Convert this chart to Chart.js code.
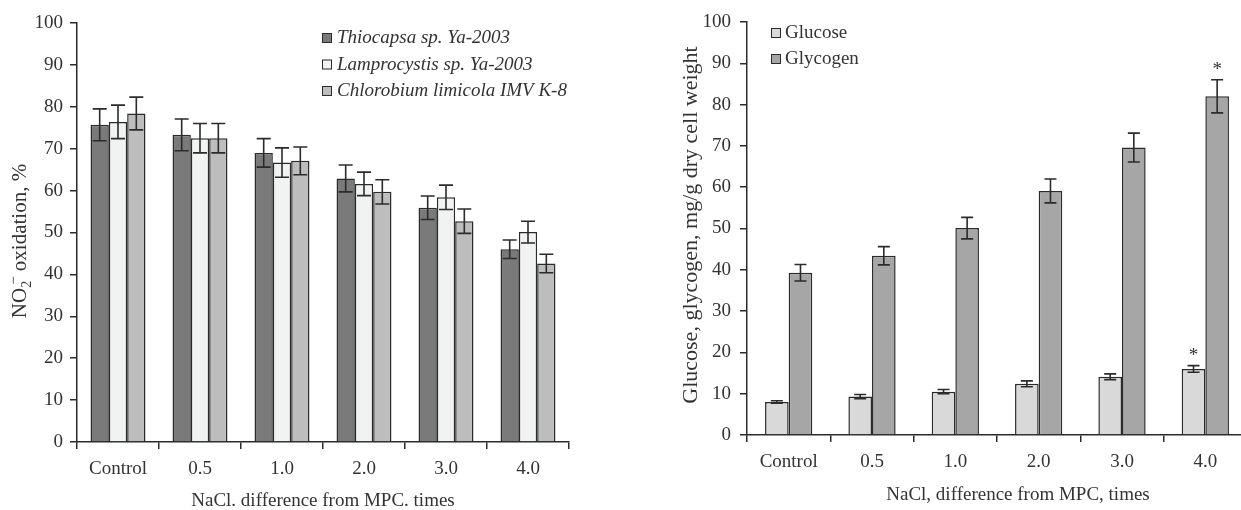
<!DOCTYPE html>
<html>
<head>
<meta charset="utf-8">
<script src="https://cdn.jsdelivr.net/npm/chart.js@4/dist/chart.umd.min.js"></script>
<style>
    html, body { margin: 0; padding: 0; background: #fff; overflow: hidden; width: 1241px; height: 510px; }
    #nitriteChart { position: absolute; left: 0; top: 0; }
    #sugarChart { position: absolute; left: 620px; top: 0; }
</style>
</head>
<body>
<canvas id="nitriteChart" width="620" height="510"></canvas>
<canvas id="sugarChart" width="640" height="510"></canvas>
<script>
const FONT = "'Liberation Serif', 'Times New Roman', serif";
const TEXT = "#333333";
const LINE = "#2b2b2b";

// shared categories
const categories = ["Control", "0.5", "1.0", "2.0", "3.0", "4.0"];

// left chart: NO2- oxidation, %
const thiocapsa = [75.7, 73.3, 69.0, 62.9, 55.9, 46.0];
const thiocapsaErr = [3.8, 3.8, 3.4, 3.2, 2.8, 2.2];
const lamprocystis = [76.4, 72.5, 66.7, 61.6, 58.4, 50.1];
const lamprocystisErr = [4.0, 3.5, 3.5, 2.8, 2.9, 2.6];
const chlorobium = [78.4, 72.5, 67.1, 59.7, 52.7, 42.6];
const chlorobiumErr = [3.9, 3.5, 3.3, 2.9, 2.9, 2.2];

// right chart: glucose / glycogen, mg/g dry cell weight
const glucose = [8.0, 9.3, 10.5, 12.4, 14.1, 16.0];
const glucoseErr = [0.3, 0.5, 0.5, 0.7, 0.7, 0.8];
const glycogen = [39.3, 43.4, 50.1, 59.1, 69.6, 82.0];
const glycogenErr = [2.0, 2.2, 2.6, 2.9, 3.5, 4.0];
const glucoseSignificant = [false, false, false, false, false, true];
const glycogenSignificant = [false, false, false, false, false, true];

const yMin = 0;
const yMax = 100;
const yStep = 10;

// drawing extras per canvas (kept out of Chart.js options so they stay plain objects)
const extras = {
    nitriteChart: {
        cap: 7,
        legend: { x: 322, textX: 337, y: 38, rowHeight: 26.5, italic: true },
        xTitle: { text: "NaCl. difference from MPC. times", x: 323, y: 506 },
        yTitle: {
            x: 26, y: 241, size: 21,
            parts: [
                { text: "NO", size: 21, dy: 0, shift: 0 },
                { text: "2", size: 14, dy: 5, shift: 0 },
                { text: "\u2212", size: 15, dy: -8, shift: -4 },
                { text: " oxidation, %", size: 21, dy: 0, shift: 0 },
            ],
        },
    },
    sugarChart: {
        cap: 6,
        legend: { x: 151, textX: 165, y: 33, rowHeight: 26, italic: false },
        xTitle: { text: "NaCl, difference from MPC, times", x: 398, y: 500 },
        yTitle: {
            x: 77, y: 225, size: 22,
            parts: [{ text: "Glucose, glycogen, mg/g dry cell weight", size: 22, dy: 0, shift: 0 }],
        },
    },
};

const errorBarsPlugin = {
    id: "errorBars",
    afterDatasetsDraw(chart) {
        const ctx = chart.ctx;
        const yScale = chart.scales.y;
        const half = extras[chart.canvas.id].cap;
        ctx.save();
        chart.data.datasets.forEach((ds, i) => {
            const meta = chart.getDatasetMeta(i);
            if (meta.hidden || !ds.errors) return;
            meta.data.forEach((bar, j) => {
                const v = ds.data[j];
                const e = ds.errors[j];
                const top = yScale.getPixelForValue(v + e);
                const bottom = yScale.getPixelForValue(v - e);
                ctx.strokeStyle = LINE;
                ctx.lineWidth = 1.6;
                ctx.beginPath();
                ctx.moveTo(bar.x, top);
                ctx.lineTo(bar.x, bottom);
                ctx.moveTo(bar.x - half, top);
                ctx.lineTo(bar.x + half, top);
                ctx.moveTo(bar.x - half, bottom);
                ctx.lineTo(bar.x + half, bottom);
                ctx.stroke();
                if (ds.marks && ds.marks[j]) {
                    ctx.fillStyle = TEXT;
                    ctx.font = "19px " + FONT;
                    ctx.textAlign = "center";
                    ctx.textBaseline = "alphabetic";
                    ctx.fillText("*", bar.x, top - 5);
                }
            });
        });
        ctx.restore();
    },
};

const annotationsPlugin = {
    id: "annotations",
    afterDraw(chart) {
        const opts = extras[chart.canvas.id];
        const ctx = chart.ctx;
        ctx.save();

        // legend drawn inside the plot
        const lg = opts.legend;
        ctx.font = (lg.italic ? "italic " : "") + "19px " + FONT;
        ctx.textAlign = "left";
        ctx.textBaseline = "middle";
        chart.data.datasets.forEach((ds, i) => {
            const y = lg.y + i * lg.rowHeight;
            ctx.fillStyle = ds.backgroundColor;
            ctx.fillRect(lg.x, y - 5, 10, 10);
            ctx.strokeStyle = LINE;
            ctx.lineWidth = 1;
            ctx.strokeRect(lg.x + 0.5, y - 4.5, 9, 9);
            ctx.fillStyle = TEXT;
            ctx.fillText(ds.label, lg.textX, y);
        });

        // x axis title
        ctx.fillStyle = TEXT;
        ctx.font = "19px " + FONT;
        ctx.textAlign = "center";
        ctx.textBaseline = "alphabetic";
        ctx.fillText(opts.xTitle.text, opts.xTitle.x, opts.xTitle.y);

        // y axis title, rotated, with optional sub/superscripts
        const yt = opts.yTitle;
        ctx.translate(yt.x, yt.y);
        ctx.rotate(-Math.PI / 2);
        ctx.textAlign = "left";
        let total = 0;
        yt.parts.forEach((p) => {
            ctx.font = p.size + "px " + FONT;
            total += ctx.measureText(p.text).width + p.shift;
        });
        let pos = -total / 2;
        yt.parts.forEach((p) => {
            ctx.font = p.size + "px " + FONT;
            pos += p.shift;
            ctx.fillText(p.text, pos, p.dy);
            pos += ctx.measureText(p.text).width;
        });
        ctx.restore();
    },
};

function axisOptions(yWidth, xHeight, yPad) {
    return {
        x: {
            offset: true,
            grid: { display: true, drawOnChartArea: false, drawTicks: true, tickLength: 7, color: LINE, lineWidth: 1.5, offset: true },
            border: { display: true, color: LINE, width: 1.5 },
            ticks: { color: TEXT, font: { family: FONT, size: 19 }, padding: 9, maxRotation: 0 },
            afterFit(scale) { scale.height = xHeight; },
        },
        y: {
            min: yMin,
            max: yMax,
            grid: { display: true, drawOnChartArea: false, drawTicks: true, tickLength: 7, color: LINE, lineWidth: 1.5 },
            border: { display: true, color: LINE, width: 1.5 },
            ticks: { stepSize: yStep, color: TEXT, font: { family: FONT, size: 19 }, padding: yPad },
            afterFit(scale) { scale.width = yWidth; },
        },
    };
}

function barSet(label, values, errors, color, marks) {
    return {
        label,
        data: values,
        errors,
        marks,
        backgroundColor: color,
        borderColor: LINE,
        borderWidth: 1.5,
        borderSkipped: "bottom",
    };
}

document.addEventListener("DOMContentLoaded", () => {
    new Chart(document.getElementById("nitriteChart"), {
        type: "bar",
        data: {
            labels: categories,
            datasets: [
                barSet("Thiocapsa sp. Ya-2003", thiocapsa, thiocapsaErr, "#7a7a7a"),
                barSet("Lamprocystis sp. Ya-2003", lamprocystis, lamprocystisErr, "#f1f3f2"),
                barSet("Chlorobium limicola IMV K-8", chlorobium, chlorobiumErr, "#bdbdbd"),
            ],
        },
        options: {
            responsive: false,
            animation: false,
            datasets: { bar: { barPercentage: 1, categoryPercentage: 0.67 } },
            layout: { padding: { top: 23, right: 51, bottom: 0, left: 0 } },
            scales: axisOptions(77, 68, 7),
            plugins: {
                legend: { display: false },
                tooltip: { enabled: false },
            },
        },
        plugins: [errorBarsPlugin, annotationsPlugin],
    });

    new Chart(document.getElementById("sugarChart"), {
        type: "bar",
        data: {
            labels: categories,
            datasets: [
                barSet("Glucose", glucose, glucoseErr, "#d9d9d9", glucoseSignificant),
                barSet("Glycogen", glycogen, glycogenErr, "#a5a6a5", glycogenSignificant),
            ],
        },
        options: {
            responsive: false,
            animation: false,
            datasets: { bar: { barPercentage: 1, categoryPercentage: 0.567 } },
            layout: { padding: { top: 22, right: 13, bottom: 0, left: 0 } },
            scales: axisOptions(127, 75, 9),
            plugins: {
                legend: { display: false },
                tooltip: { enabled: false },
            },
        },
        plugins: [errorBarsPlugin, annotationsPlugin],
    });
});
</script>
</body>
</html>
